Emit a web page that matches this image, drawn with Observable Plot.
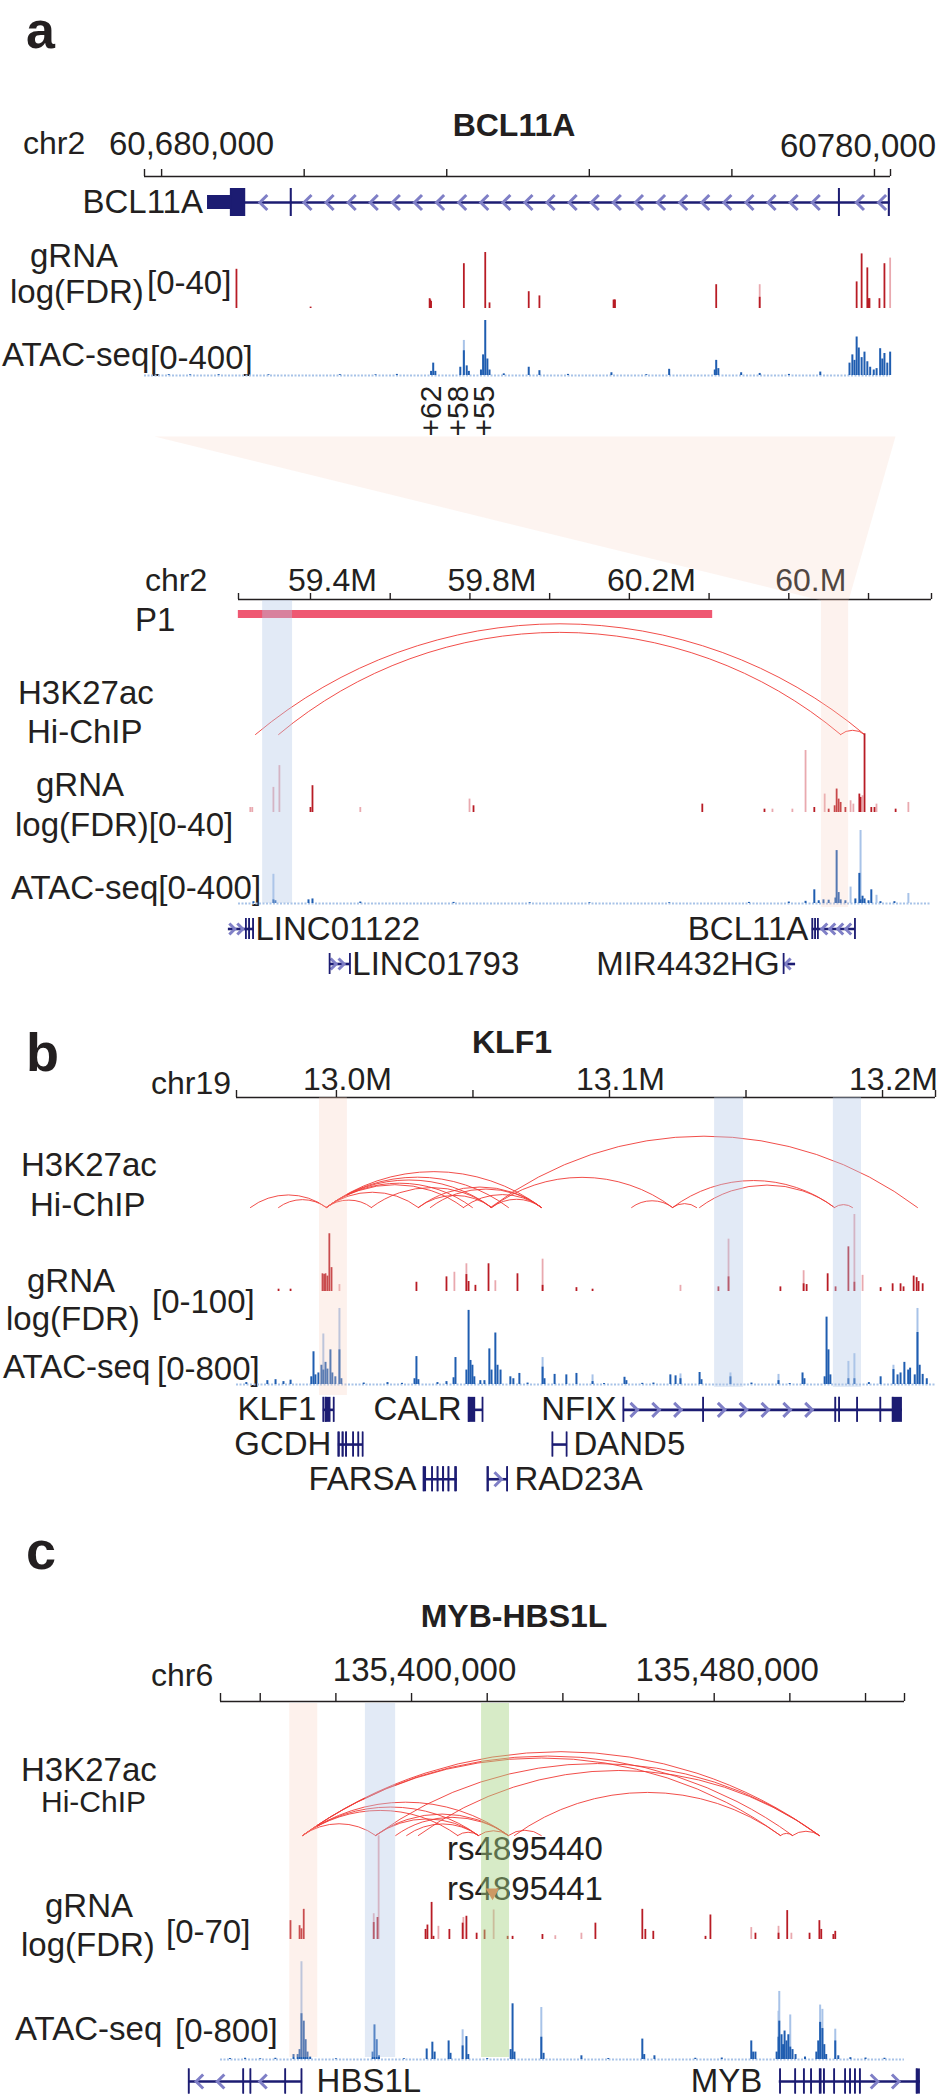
<!DOCTYPE html>
<html>
<head>
<meta charset="utf-8">
<script src="https://cdn.jsdelivr.net/npm/d3@7"></script>
<script src="https://cdn.jsdelivr.net/npm/@observablehq/plot@0.6"></script>
<style>
html,body{margin:0;padding:0;background:#fff;}
#fig{position:relative;width:937px;height:2100px;overflow:hidden;font-family:"Liberation Sans",Arial,Helvetica,sans-serif;color:#231f20;}
.lbl{position:absolute;white-space:nowrap;line-height:1;}
</style>
</head>
<body>
<div id="fig"></div>
<script>
// ================= DATA =================
// ---- Panel a, BCL11A locus (positions in kb on chr2) ----
const aTopDomain = [60677.6, 60782.25];
const aTopTicks = [60680, 60700, 60720, 60740, 60760, 60780];
const aTopGenes = [
  {name: "BCL11A", row: 0, start: 60686.5, end: 60782.2, strand: "-",
   exons: [[60686.5, 60689.7, "utr"], [60689.7, 60691.8], [60698.1, 60698.3], [60775.0, 60775.2], [60782.0, 60782.2]]}
];
// [position, value, max(light)]
const aTopGRNA = [
  [60690.5, 28], [60700.9, 1], [60717.6, 7], [60717.7, 6], [60717.8, 5],
  [60722.4, 32], [60725.4, 40], [60726.0, 4], [60731.5, 12], [60733.0, 9],
  [60743.4, 6], [60743.5, 6], [60743.6, 6], [60757.8, 17], [60763.9, 8, 17],
  [60777.5, 19], [60778.2, 39], [60779.0, 29], [60779.2, 7], [60779.3, 7],
  [60780.7, 7], [60781.4, 32], [60782.2, 0, 36]
];
const aTopATAC = [
  [60681, 6], [60684, 5], [60688, 6], [60695, 5], [60705, 6], [60710, 5], [60713, 8],
  [60717.8, 30], [60718.1, 90], [60718.4, 30],
  [60721.9, 60], [60722.4, 180, 255], [60722.8, 70], [60723.1, 30],
  [60724.8, 40], [60725.1, 150], [60725.4, 400], [60725.7, 120], [60726.0, 40],
  [60728, 12], [60731.5, 60], [60733.0, 35], [60737, 8], [60743.1, 20], [60748, 6], [60751.2, 45],
  [60757.6, 40], [60757.8, 110], [60758.1, 50],
  [60761.3, 20], [60763.9, 15], [60768, 8], [60772.4, 25],
  [60776.5, 90], [60776.9, 150], [60777.2, 110], [60777.5, 280], [60777.8, 200], [60778.2, 130],
  [60778.6, 170], [60779.0, 100], [60779.4, 60], [60779.9, 40], [60780.3, 50], [60780.8, 195],
  [60781.1, 120], [60781.4, 160], [60781.8, 90], [60782.2, 170]
];
const aEnhancers = [
  {label: "+62", pos: 60717.9}, {label: "+58", pos: 60721.6}, {label: "+55", pos: 60725.3}
];

// ---- Panel a, wide view (positions in Mb on chr2) ----
const aLowDomain = [59.2194, 60.958];
const aLowTicks = [59.4, 59.6, 59.8, 60.0, 60.2, 60.4, 60.6, 60.8];
const aLowTickLabels = [
  {v: 59.4, t: "59.4M"}, {v: 59.8, t: "59.8M"}, {v: 60.2, t: "60.2M"}, {v: 60.6, t: "60.M"}
];
const aLowP1 = [{name: "P1", start: 59.219, end: 60.409}];
const aLowArcs = [[59.262, 60.790], [59.320, 60.730], [60.730, 60.790]];
const aLowGRNA = [
  [59.249, 0, 3], [59.254, 0, 3], [59.307, 0, 15], [59.322, 0, 28], [59.400, 3], [59.405, 16],
  [59.525, 0, 3], [59.799, 0, 8], [59.809, 4], [60.383, 5], [60.539, 2], [60.559, 0, 2],
  [60.609, 0, 2], [60.642, 0, 37], [60.664, 3], [60.690, 0, 11], [60.700, 2], [60.715, 4],
  [60.720, 14], [60.725, 8], [60.730, 6], [60.742, 3], [60.755, 0, 7], [60.762, 0, 5],
  [60.777, 11], [60.780, 9], [60.785, 0, 10], [60.790, 47], [60.807, 3], [60.815, 3],
  [60.820, 0, 5], [60.868, 2], [60.900, 0, 6]
];
const aLowATAC = [
  [59.257, 10], [59.307, 20, 160], [59.312, 15], [59.395, 20], [59.405, 25], [59.525, 8], [59.759, 6],
  [59.95, 4], [60.1, 4], [60.3, 4], [60.5, 6], [60.6, 8],
  [60.642, 12], [60.664, 75], [60.675, 15], [60.687, 20], [60.700, 18], [60.717, 30], [60.720, 290],
  [60.725, 60], [60.730, 20], [60.742, 15], [60.755, 0, 90], [60.767, 25], [60.777, 165],
  [60.780, 20, 400], [60.785, 40], [60.790, 25], [60.800, 15], [60.807, 75], [60.820, 0, 45],
  [60.830, 10], [60.865, 10], [60.900, 0, 55]
];
const aLowGenes = [
  {name: "LINC01122", row: 0, start: 59.194, end: 59.257, strand: "+",
   exons: [[59.238, 59.239], [59.246, 59.247], [59.256, 59.257]]},
  {name: "BCL11A", row: 0, start: 60.659, end: 60.767, strand: "-",
   exons: [[60.659, 60.660], [60.666, 60.667], [60.673, 60.674], [60.766, 60.767]]},
  {name: "LINC01793", row: 1, start: 59.448, end: 59.500, strand: "+",
   exons: [[59.448, 59.449], [59.499, 59.500]]},
  {name: "MIR4432HG", row: 1, start: 60.587, end: 60.617, strand: "-",
   exons: [[60.587, 60.588]]}
];
const aLowBlueBands = [[59.280, 59.355]];
const aLowPinkBands = [[60.682, 60.750]];

// ---- Panel b, KLF1 locus (positions in kb on chr19) ----
const bDomain = [12963.4, 13219.4];
const bTicks = [13000, 13050, 13100, 13150, 13200];
const bTickLabels = [{v: 13000, t: "13.0M"}, {v: 13100, t: "13.1M"}, {v: 13200, t: "13.2M"}];
const bArcs = [
  [12968.5, 12996.3], [12978.8, 12996.3], [12996.3, 13012.8], [12996.3, 13030.0], [12996.3, 13046.5],
  [12996.3, 13049.8], [12996.3, 13056.8], [12996.3, 13063.0], [12996.3, 13075.1], [13012.8, 13056.8],
  [13030.0, 13056.8], [13030.0, 13075.1], [13034.4, 13075.1], [13046.5, 13075.1], [13056.8, 13075.1],
  [13056.8, 13123.1], [13056.4, 13212.8], [13108.1, 13123.1], [13123.1, 13131.9], [13123.1, 13182.4],
  [13133.0, 13182.4], [13182.4, 13189.0]
];
const bGRNA = [
  [12978.8, 3], [12983.2, 3], [12994.9, 23], [12995.5, 22], [12996.0, 23], [12996.7, 20], [12997.4, 75],
  [12998.2, 31], [13001.1, 0, 9], [13029.3, 12], [13040.3, 19], [13043.2, 0, 25], [13047.6, 22, 36],
  [13048.4, 13], [13050.9, 8], [13055.7, 36], [13058.2, 0, 14], [13066.3, 23], [13075.5, 8, 42],
  [13087.9, 5], [13093.8, 3], [13126.0, 0, 8], [13139.9, 6], [13143.6, 19, 68], [13162.6, 6],
  [13171.1, 10, 27], [13172.2, 9], [13179.9, 23], [13182.8, 6], [13187.5, 58], [13189.7, 12, 100],
  [13192.7, 0, 21], [13199.3, 5], [13203.7, 10], [13206.6, 10], [13207.7, 6], [13211.4, 20],
  [13212.5, 18], [13213.2, 13], [13214.7, 10]
];
const bATAC = [
  [12967, 20], [12974.7, 40], [12977.7, 50], [12980.6, 30], [12983.2, 45],
  [12990.8, 80], [12991.6, 340], [12992.3, 100], [12993.4, 120], [12994.5, 200], [12995.2, 150, 525],
  [12996.0, 230], [12996.7, 160], [12997.8, 360], [12998.5, 120], [12999.6, 80], [13001.1, 360, 790],
  [13001.8, 60], [13010, 15], [13018.7, 20], [13024, 12], [13028.6, 60], [13029.3, 290], [13030.0, 50],
  [13037, 20], [13040.3, 30], [13042.9, 70], [13043.6, 280],
  [13047.6, 150], [13048.4, 770], [13049.1, 250], [13049.8, 200], [13050.5, 80], [13052.7, 40],
  [13054.2, 40], [13056.0, 370], [13056.8, 150], [13058.2, 535], [13059.0, 200], [13060.1, 150],
  [13063.7, 80], [13064.8, 60], [13067.0, 115], [13070, 15],
  [13075.5, 180, 280], [13076.2, 60], [13079.9, 105], [13084.2, 100], [13087.9, 115], [13093.8, 30, 100],
  [13098, 10], [13105.5, 75], [13106.2, 40], [13112, 12], [13116.1, 15], [13122.3, 100], [13124.2, 90],
  [13126.0, 60, 110], [13133.0, 125], [13133.7, 50], [13144.3, 80, 120], [13152, 15], [13161.9, 40, 105],
  [13166, 10], [13170.7, 120], [13171.4, 60],
  [13178.8, 80], [13179.5, 700], [13180.2, 360], [13180.9, 100], [13187.5, 60, 240], [13189.7, 60, 320],
  [13195, 20], [13199.3, 80], [13204.0, 155, 200], [13205.5, 100], [13206.6, 120], [13208.0, 230],
  [13209.4, 150], [13210.1, 170], [13211.8, 100], [13212.8, 540, 790], [13213.6, 200], [13214.7, 105],
  [13216.2, 60]
];
const bGenes = [
  {name: "KLF1", row: 0, start: 12995.2, end: 12999.3, strand: "-",
   exons: [[12995.2, 12995.5], [12996.0, 12998.0], [12999.0, 12999.3]]},
  {name: "CALR", row: 0, start: 13048.4, end: 13053.8, strand: "+",
   exons: [[13048.4, 13051.0], [13053.5, 13053.8]]},
  {name: "NFIX", row: 0, start: 13105.1, end: 13207.3, strand: "+",
   exons: [[13105.1, 13105.4], [13134.3, 13134.6], [13182.7, 13183.0], [13184.1, 13184.4],
           [13190.7, 13191.0], [13199.2, 13199.5], [13203.7, 13207.3]]},
  {name: "GCDH", row: 1, start: 13000.7, end: 13009.9, strand: "+",
   exons: [[13000.7, 13001.4], [13002.2, 13002.8], [13003.5, 13004.0], [13006.1, 13006.4], [13008.0, 13008.3], [13009.6, 13009.9]]},
  {name: "DAND5", row: 1, start: 13079.1, end: 13084.6, strand: "+",
   exons: [[13079.1, 13079.4], [13084.3, 13084.6]]},
  {name: "FARSA", row: 2, start: 13031.9, end: 13044.3, strand: "-",
   exons: [[13031.9, 13033.0], [13035.0, 13035.5], [13037.0, 13037.5], [13039.0, 13039.6], [13041.0, 13041.5], [13043.5, 13044.3]]},
  {name: "RAD23A", row: 2, start: 13055.3, end: 13063.0, strand: "+",
   exons: [[13055.3, 13056.0], [13062.5, 13063.0]]}
];
const bPinkBands = [[12993.8, 13004.0]];
const bBlueBands = [[13138.5, 13149.1], [13182.0, 13192.3]];

// ---- Panel c, MYB-HBS1L locus (positions in kb on chr6) ----
const cDomain = [135349.5, 135530.3];
const cTicks = [135360, 135380, 135400, 135420, 135440, 135460, 135480, 135500, 135520];
const cTickLabels = [{v: 135400, t: "135,400,000"}, {v: 135480, t: "135,480,000"}];
const cArcs = [
  [135371.2, 135507.8], [135371.2, 135500.7], [135371.2, 135497.5], [135390.5, 135507.8],
  [135401.8, 135507.8], [135427.2, 135497.5],
  [135371.2, 135425.6], [135371.2, 135417.7], [135371.2, 135412.2], [135371.2, 135390.5],
  [135390.5, 135425.6], [135390.5, 135417.7], [135395.8, 135425.6], [135398.7, 135417.7],
  [135412.2, 135417.7], [135417.7, 135425.6], [135425.6, 135434.3], [135497.5, 135500.7],
  [135500.7, 135507.8]
];
const cSNPs = [{id: "rs4895440", pos: 135421.2}, {id: "rs4895441", pos: 135421.4}];
const cGRNA = [
  [135368.0, 30], [135370.4, 22], [135370.9, 17], [135371.5, 48],
  [135390.0, 27, 41], [135391.0, 35], [135391.3, 0, 165],
  [135403.7, 16], [135404.2, 23], [135405.3, 59], [135405.8, 5], [135407.1, 0, 21], [135410.0, 16],
  [135413.5, 26], [135413.7, 0, 35], [135414.5, 37], [135417.2, 10], [135419.3, 15], [135421.7, 0, 47],
  [135425.4, 5], [135426.7, 5], [135434.6, 8], [135438.0, 0, 6], [135444.9, 0, 10], [135448.6, 26],
  [135461.0, 48], [135461.8, 16], [135463.9, 13], [135477.7, 5], [135479.0, 39], [135489.8, 0, 19],
  [135490.9, 10], [135497.0, 10, 21], [135499.3, 46], [135500.4, 0, 10], [135505.2, 10],
  [135507.8, 30], [135508.3, 16], [135511.5, 8], [135512.0, 13]
];
const cATAC = [
  [135352, 8], [135356, 10], [135360, 6], [135364, 10], [135368.8, 40], [135369.9, 40], [135370.4, 80],
  [135370.9, 370, 790], [135371.5, 310], [135372.0, 160], [135372.5, 60], [135373.2, 20], [135380, 6],
  [135389.7, 60], [135390.2, 280], [135390.8, 160], [135391.4, 30], [135398, 6],
  [135404.0, 85], [135405.5, 140], [135406.1, 60], [135409.8, 150], [135410.3, 50],
  [135413.5, 110, 240], [135414.5, 185], [135415.0, 40], [135420, 8],
  [135426.2, 80], [135426.7, 450], [135427.2, 60], [135434.3, 180, 420], [135434.9, 50],
  [135444.9, 30], [135452, 8], [135461.0, 165], [135461.5, 40], [135464.2, 30], [135475, 10], [135482, 12],
  [135489.8, 150], [135490.3, 60], [135490.9, 60],
  [135496.5, 60], [135497.0, 180, 390], [135497.2, 310, 550], [135497.8, 200], [135498.2, 120],
  [135498.6, 230], [135499.1, 150], [135499.6, 200], [135500.1, 100, 360], [135500.7, 80], [135501.5, 40],
  [135504, 20], [135507.0, 60], [135507.5, 150], [135508.0, 300, 440], [135508.6, 250, 405],
  [135509.1, 120], [135509.6, 40], [135512.0, 150, 245], [135512.8, 30], [135516, 15], [135520, 12],
  [135525, 10]
];
const cGenes = [
  {name: "HBS1L", row: 0, start: 135341.1, end: 135371.2, strand: "-",
   exons: [[135341.1, 135341.4], [135355.5, 135355.8], [135357.4, 135357.7], [135366.6, 135366.9], [135370.9, 135371.2]]},
  {name: "MYB", row: 0, start: 135497.2, end: 135534.5, strand: "+",
   exons: [[135497.4, 135497.7], [135501.4, 135501.7], [135503.7, 135504.0], [135505.6, 135505.9],
           [135507.9, 135508.5], [135509.0, 135509.3], [135511.7, 135512.0], [135514.6, 135514.9],
           [135515.9, 135516.2], [135517.2, 135517.5], [135518.5, 135518.8], [135533.5, 135534.5]]}
];
const cPinkBands = [[135367.8, 135375.2]];
const cBlueBands = [[135387.8, 135395.8]];
const cGreenBands = [[135418.5, 135425.9]];

// ================= RENDERING =================
const W = 937;
const FONT = '"Liberation Sans", Arial, Helvetica, sans-serif';
const INK = "#231f20";
const COL = {
  red: "#b81c25", redL: "#e9a9af", blue: "#1f5db0", blueL: "#a8c3e8", arc: "#ef3a36",
  gene: "#1c1c72", chev: "#7f7fc6", p1: "#ef5872",
  pink: "#f7cdbb", blueBand: "#b2c7e8", green: "#a6d383"
};
const fig = document.getElementById("fig");

function label(text, x, base, o = {}) {
  const size = o.size ?? 33;
  const d = document.createElement("div");
  d.className = "lbl";
  d.textContent = text;
  d.style.left = x + "px";
  d.style.top = (base - 0.8465 * size) + "px";
  d.style.fontSize = size + "px";
  if (o.bold) d.style.fontWeight = "bold";
  if (o.anchor === "end") d.style.transform = "translateX(-100%)";
  if (o.anchor === "middle") d.style.transform = "translateX(-50%)";
  fig.appendChild(d);
  return d;
}

function track(domain, xr, top, height, ydom, marks) {
  const svg = Plot.plot({
    width: W, height,
    marginLeft: xr[0], marginRight: W - xr[1], marginTop: 0, marginBottom: 0,
    x: {domain, axis: null},
    y: {domain: ydom, axis: null},
    style: {overflow: "visible", fontFamily: FONT, background: "transparent"},
    marks
  });
  svg.style.position = "absolute";
  svg.style.left = "0px";
  svg.style.top = top + "px";
  fig.appendChild(svg);
  return svg;
}

function axisTrack(domain, xr, top, h, ticks, labels, o) {
  return track(domain, xr, top, h, [0, 1], [
    Plot.ruleY([0], {stroke: INK, strokeWidth: 1.6}),
    Plot.ruleX([domain[0], ...ticks, domain[1]], {y1: 0, y2: 1, stroke: INK, strokeWidth: 1.4}),
    Plot.text(labels, {x: "v", text: "t", frameAnchor: "top", lineAnchor: "bottom",
      dx: o.dx, dy: o.dy, fontSize: o.size, fill: INK})
  ]);
}

function barMarks(data, dark, light, sw) {
  return [
    Plot.ruleX(data.filter(d => d[2] != null), {x: d => d[0], y1: 0, y2: d => d[2], stroke: light, strokeWidth: sw}),
    Plot.ruleX(data.filter(d => d[1] > 0), {x: d => d[0], y1: 0, y2: d => d[1], stroke: dark, strokeWidth: sw})
  ];
}
function grnaTrack(data, domain, xr, top, h, max) {
  return track(domain, xr, top, h, [0, max], barMarks(data, COL.red, COL.redL, 1.8));
}
function atacTrack(data, domain, xr, top, h, max, extra = []) {
  return track(domain, xr, top, h, [0, max], [
    Plot.ruleY([0], {stroke: COL.blueL, strokeWidth: 2, strokeDasharray: "2 1.5"}),
    ...barMarks(data, COL.blue, COL.blueL, 2),
    ...extra
  ]);
}
function arcTrack(arcs, domain, xr, top, h, bend) {
  return track(domain, xr, top, h, [0, 1], [
    Plot.arrow(arcs, {x1: d => d[0], x2: d => d[1], y1: 0, y2: 0, bend, headLength: 0,
      stroke: COL.arc, strokeWidth: 0.9})
  ]);
}
function bandTrack(domain, xr, top, h, sets) {
  return track(domain, xr, top, h, [0, 1], sets.map(([data, color, op]) =>
    Plot.rect(data, {x1: d => d[0], x2: d => d[1], fill: color, fillOpacity: op})));
}

const chevL = {draw(ctx, size) { const r = Math.sqrt(size / Math.PI); ctx.moveTo(r * 0.55, -r); ctx.lineTo(-r * 0.45, 0); ctx.lineTo(r * 0.55, r); }};
const chevR = {draw(ctx, size) { const r = Math.sqrt(size / Math.PI); ctx.moveTo(-r * 0.55, -r); ctx.lineTo(r * 0.45, 0); ctx.lineTo(-r * 0.55, r); }};

function geneTrack(genes, domain, xr, top, rowH, o) {
  const n = d3.max(genes, g => g.row) + 1;
  const ex = genes.flatMap(g => g.exons.map(e => ({s: e[0], e: e[1], utr: e[2] === "utr", row: g.row})));
  const ch = genes.flatMap(g => d3.range(g.start + o.step * 0.5, g.end, o.step)
    .filter(x => !g.exons.some(([s, e]) => x > s - o.step * 0.3 && x < e + o.step * 0.3))
    .map(x => ({x, row: g.row, strand: g.strand})));
  const hh = d => (d.utr ? o.half / 2 : o.half);
  const rightSet = new Set(o.right || []);
  return track(domain, xr, top, n * rowH, [n - 0.5, -0.5], [
    Plot.ruleY(genes, {y: "row", x1: "start", x2: "end", stroke: COL.gene, strokeWidth: 2.6}),
    Plot.dot(ch.filter(d => d.strand === "-"), {x: "x", y: "row", symbol: chevL, r: o.r, stroke: COL.chev, strokeWidth: 3, fill: "none"}),
    Plot.dot(ch.filter(d => d.strand === "+"), {x: "x", y: "row", symbol: chevR, r: o.r, stroke: COL.chev, strokeWidth: 3, fill: "none"}),
    Plot.rect(ex, {x1: "s", x2: "e", y1: d => d.row - hh(d), y2: d => d.row + hh(d), fill: COL.gene}),
    Plot.ruleX(ex, {x: "s", y1: d => d.row - hh(d), y2: d => d.row + hh(d), stroke: COL.gene, strokeWidth: 1.8}),
    Plot.text(genes.filter(g => !rightSet.has(g.name)), {x: "start", y: "row", text: "name", textAnchor: "end", dx: o.dxL, fontSize: 33, fill: INK}),
    Plot.text(genes.filter(g => rightSet.has(g.name)), {x: "end", y: "row", text: "name", textAnchor: "start", dx: o.dxR, fontSize: 33, fill: INK})
  ]);
}

// ---------- Panel a (upper) ----------
const aTopX = [144, 890];
label("a", 26, 48, {size: 52, bold: true});
label("BCL11A", 514, 136, {size: 32, bold: true, anchor: "middle"});
label("chr2", 23, 154, {size: 32});
label("60,680,000", 109, 155);
label("60780,000", 936, 157, {anchor: "end"});
const aTopAxis = axisTrack(aTopDomain, aTopX, 169, 7, aTopTicks, [], {dx: 0, dy: 0, size: 33});
geneTrack(aTopGenes, aTopDomain, aTopX, 188, 28, {half: 0.5, step: 3.1, r: 7.5, dxL: -5, dxR: 5});
label("gRNA", 30, 267);
label("log(FDR)", 10, 303);
label("[0-40]", 147, 294);
grnaTrack(aTopGRNA, aTopDomain, aTopX, 252, 56, 40);
label("ATAC-seq", 2, 366);
label("[0-400]", 150, 369);
atacTrack(aTopATAC, aTopDomain, aTopX, 320, 55, 400, [
  Plot.text(aEnhancers, {x: "pos", text: "label", rotate: -90, textAnchor: "start", lineAnchor: "middle",
    frameAnchor: "bottom", dy: 61, fontSize: 30, fill: INK})
]);

// ---------- Panel a (lower) ----------
const aLowX = [238, 931];
label("chr2", 145, 591, {size: 32});
const aLowAxis = axisTrack(aLowDomain, aLowX, 593, 6, aLowTicks, aLowTickLabels, {dx: 22, dy: -3, size: 32});
label("P1", 135, 631);
track(aLowDomain, aLowX, 610, 8, [0, 1], [
  Plot.rect(aLowP1, {x1: "start", x2: "end", fill: COL.p1})
]);
label("H3K27ac", 18, 704);
label("Hi-ChIP", 27, 743);
arcTrack(aLowArcs, aLowDomain, aLowX, 600, 134, 40);
label("gRNA", 36, 796);
label("log(FDR)[0-40]", 15, 836);
grnaTrack(aLowGRNA, aLowDomain, aLowX, 745, 67, 40);
label("ATAC-seq[0-400]", 11, 899);
atacTrack(aLowATAC, aLowDomain, aLowX, 830, 73, 400);
geneTrack(aLowGenes, aLowDomain, aLowX, 911, 35, {half: 0.3, step: 0.02, r: 5.5, dxL: -4, dxR: 2, right: ["LINC01122", "LINC01793"]});
bandTrack(aLowDomain, aLowX, 600, 303, [[aLowBlueBands, COL.blueBand, 0.38]]);
bandTrack(aLowDomain, aLowX, 600, 307, [[aLowPinkBands, COL.pink, 0.25]]);
// zoom trapezoid linking the BCL11A view to the highlighted region of the wide view
{
  const xt = aTopAxis.scale("x"), xl = aLowAxis.scale("x");
  const top = 436, bottom = 600;
  const pts = [
    {x: xt.apply(aTopDomain[0]) + 10, y: 0},
    {x: xt.apply(aTopDomain[1]) + 5, y: 0},
    {x: xl.apply(aLowPinkBands[0][1]), y: bottom - top},
    {x: xl.apply(aLowPinkBands[0][0]), y: bottom - top}
  ];
  const svg = Plot.plot({
    width: W, height: bottom - top, margin: 0,
    x: {type: "identity", axis: null}, y: {type: "identity", axis: null},
    style: {overflow: "visible", background: "transparent"},
    marks: [Plot.line(pts, {x: "x", y: "y", curve: "linear-closed", fill: COL.pink, fillOpacity: 0.22, stroke: "none"})]
  });
  svg.style.position = "absolute"; svg.style.left = "0px"; svg.style.top = top + "px";
  fig.appendChild(svg);
}

// ---------- Panel b ----------
const bX = [236, 935];
label("b", 26, 1071, {size: 54, bold: true});
label("KLF1", 512, 1053, {size: 32, bold: true, anchor: "middle"});
label("chr19", 151, 1094, {size: 32});
axisTrack(bDomain, bX, 1090, 7, bTicks, bTickLabels, {dx: 11, dy: -1, size: 32});
label("H3K27ac", 21, 1176);
label("Hi-ChIP", 30, 1216);
arcTrack(bArcs, bDomain, bX, 1120, 87, 37);
label("gRNA", 27, 1292);
label("log(FDR)", 6, 1330);
label("[0-100]", 152, 1313);
grnaTrack(bGRNA, bDomain, bX, 1214, 77, 100);
label("ATAC-seq", 3, 1378);
label("[0-800]", 157, 1380);
atacTrack(bATAC, bDomain, bX, 1307, 77, 800);
geneTrack(bGenes, bDomain, bX, 1392, 34.7, {half: 0.36, step: 8, r: 7, dxL: -7, dxR: 6, right: ["DAND5", "RAD23A"]});
bandTrack(bDomain, bX, 1097, 298, [[bPinkBands, COL.pink, 0.28]]);
bandTrack(bDomain, bX, 1097, 290, [[bBlueBands, COL.blueBand, 0.38]]);

// ---------- Panel c ----------
const cX = [220, 904];
label("c", 26, 1569, {size: 54, bold: true});
label("MYB-HBS1L", 514, 1627, {size: 32, bold: true, anchor: "middle"});
label("chr6", 151, 1686, {size: 32});
axisTrack(cDomain, cX, 1693, 8, cTicks, cTickLabels, {dx: 13, dy: -13, size: 33});
label("H3K27ac", 21, 1781);
label("Hi-ChIP", 41, 1812, {size: 30});
arcTrack(cArcs, cDomain, cX, 1740, 95, 36);
label(cSNPs[0].id, 447, 1860);
label(cSNPs[1].id, 447, 1900);
label("gRNA", 45, 1917);
label("log(FDR)", 21, 1956);
label("[0-70]", 166, 1943);
grnaTrack(cGRNA, cDomain, cX, 1895, 44, 70);
track(cDomain, cX, 1895, 44, [0, 70], [
  Plot.dot(cSNPs.slice(1), {x: "pos", frameAnchor: "top", dy: -3, symbol: "triangle", rotate: 180, r: 5, fill: "#ec6a4c", stroke: "none"})
]);
label("ATAC-seq", 15, 2040);
label("[0-800]", 175, 2042);
atacTrack(cATAC, cDomain, cX, 1960, 99, 800);
geneTrack(cGenes, cDomain, cX, 2064, 34, {half: 0.37, step: 5.6, r: 7, dxL: -17, dxR: 14, right: ["HBS1L"]});
bandTrack(cDomain, cX, 1703, 354, [
  [cPinkBands, COL.pink, 0.28], [cBlueBands, COL.blueBand, 0.38], [cGreenBands, COL.green, 0.45]
]);
</script>
</body>
</html>
